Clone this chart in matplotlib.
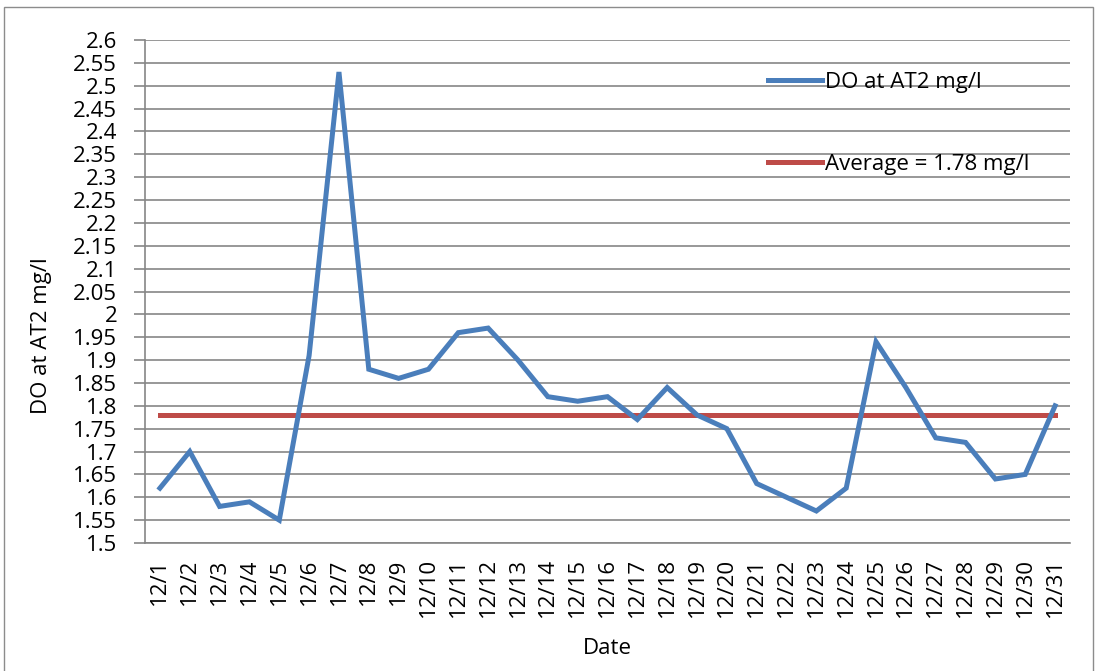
import matplotlib
matplotlib.use("Agg")
import matplotlib.pyplot as plt
from matplotlib.patches import Rectangle

dates = ["12/%d" % d for d in range(1, 32)]
do_values = [1.62, 1.70, 1.58, 1.59, 1.55, 1.91, 2.53, 1.88, 1.86, 1.88,
             1.96, 1.97, 1.90, 1.82, 1.81, 1.82, 1.77, 1.84, 1.78, 1.75,
             1.63, 1.60, 1.57, 1.62, 1.94, 1.84, 1.73, 1.72, 1.64, 1.65, 1.80]
average = 1.78
y_ticks = [1.5 + 0.05 * i for i in range(23)]
y_tick_labels = ["1.5", "1.55", "1.6", "1.65", "1.7", "1.75", "1.8", "1.85", "1.9",
                 "1.95", "2", "2.05", "2.1", "2.15", "2.2", "2.25", "2.3", "2.35",
                 "2.4", "2.45", "2.5", "2.55", "2.6"]

plt.rcParams['font.family'] = ['Open Sans', 'DejaVu Sans']
FS = 16
W, H = 1099, 671
fig = plt.figure(figsize=(W / 100, H / 100), dpi=100)
ax = fig.add_axes([145 / W, 1 - 543 / H, (1070 - 145) / W, (543 - 40) / H])

x = list(range(len(dates)))
grid_c = "#868686"
ax.plot(x, do_values, color="#4A7EBB", lw=3.6, solid_joinstyle="miter",
        label="DO at AT2 mg/l", zorder=3)
ax.plot(x, [average] * len(x), color="#BE4B48", lw=3.6,
        label="Average = 1.78 mg/l", zorder=2)

ax.set_xlim(-0.5, len(dates) - 0.5)
ax.set_ylim(1.5, 2.6)
ax.set_yticks(y_ticks)
ax.set_yticklabels(y_tick_labels, fontsize=FS)
ax.set_xticks(x)
ax.set_xticklabels(dates, rotation=90, fontsize=FS)
ax.tick_params(axis="x", length=0, pad=11)
ax.tick_params(axis="y", length=8, color=grid_c, width=1.2, pad=12)
ax.grid(axis="y", color=grid_c, lw=1.2)
ax.set_axisbelow(True)
for s in ["top", "right"]:
    ax.spines[s].set_visible(False)
for s in ["left", "bottom"]:
    ax.spines[s].set_color(grid_c)
    ax.spines[s].set_linewidth(1.2)

ax.set_ylabel("DO at AT2 mg/l", fontsize=FS)
ax.yaxis.set_label_coords(42 / W, 0.5, transform=fig.transFigure)
ax.yaxis.label.set_verticalalignment("center")
ax.set_xlabel("Date", fontsize=FS)
ax.xaxis.set_label_coords(0.5, -(649 - 543) / (543 - 40))
ax.xaxis.label.set_verticalalignment("center")

leg = ax.legend(loc="upper left", bbox_to_anchor=(768 / W, 1 - 72 / H),
                bbox_transform=fig.transFigure, frameon=False, fontsize=FS,
                handlelength=2.45, handletextpad=0.12, labelspacing=2.73,
                borderpad=0, borderaxespad=0)

fig.patches.append(Rectangle((4 / W, -0.05), (1093 - 4) / W, 1.05 - 7 / H,
                             transform=fig.transFigure, fill=False,
                             edgecolor="#8c8c8c", lw=1.0))

fig.savefig("out.png", dpi=100)
